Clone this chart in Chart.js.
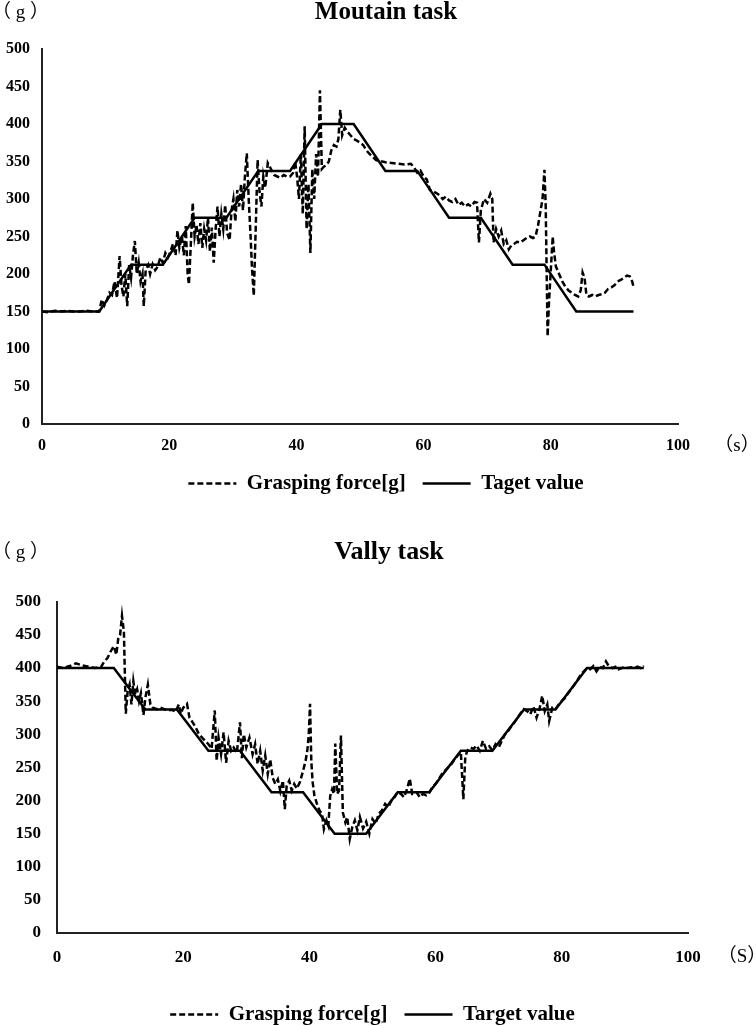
<!DOCTYPE html>
<html>
<head>
<meta charset="utf-8">
<script src="https://cdn.jsdelivr.net/npm/chart.js@4.4.1/dist/chart.umd.min.js"></script>
<style>
  body { margin: 0; width: 756px; height: 1026px; overflow: hidden; background: #fff; position: relative; }
  .box { position: absolute; left: 0; }
  #box1 { top: 0; width: 772px; height: 504px; }
  #box2 { top: 520px; width: 778px; height: 515px; }
</style>
</head>
<body>
<div class="box" id="box1"><canvas id="chart_mountain"></canvas></div>
<div class="box" id="box2"><canvas id="chart_valley"></canvas></div>
<script>
// target value steps (same times for both tasks)
const targetTime = [0, 9, 14, 19, 24, 29, 34, 39, 44, 49, 54, 59, 64, 69, 74, 79, 84, 93];
const mountainTarget = [150, 150, 212.5, 212.5, 275, 275, 337.5, 337.5, 400, 400, 337.5, 337.5, 275, 275, 212.5, 212.5, 150, 150];
const valleyTarget = [400, 400, 337.5, 337.5, 275, 275, 212.5, 212.5, 150, 150, 212.5, 212.5, 275, 275, 337.5, 337.5, 400, 400];

// grasping force, mountain task
const mountainTime = [
  0, 1, 2, 3, 4, 5, 6, 7, 8, 9,
  9.4, 9.8, 10.2, 10.6, 11, 11.4, 11.8, 12.2, 12.5, 12.8,
  13.1, 13.4, 13.7, 14, 14.3, 14.6, 14.9, 15.2, 15.5, 15.8,
  16, 16.3, 16.7, 17, 17.4, 17.8, 18.2, 18.6, 19, 19.4,
  19.8, 20.2, 20.6, 21, 21.3, 21.6, 22, 22.3, 22.6, 22.9,
  23.1, 23.4, 23.7, 24, 24.3, 24.6, 24.9, 25.2, 25.5, 25.8,
  26.1, 26.4, 26.7, 27, 27.3, 27.6, 27.9, 28.2, 28.5, 28.8,
  29.1, 29.5, 29.8, 30.1, 30.4, 30.7, 31, 31.3, 31.6, 31.9,
  32.2, 32.5, 32.8, 33, 33.3, 33.6, 33.9, 34.2, 34.5, 34.8,
  35.1, 35.5, 36, 36.5, 37, 37.5, 38, 38.5, 39, 39.5,
  39.8, 40.1, 40.4, 40.7, 41, 41.3, 41.6, 41.9, 42.2, 42.5,
  42.8, 43.1, 43.4, 43.7, 44, 44.3, 44.7, 45.1, 45.5, 45.9,
  46.3, 46.6, 46.9, 47.2, 47.6, 48, 48.5, 49, 49.5, 50,
  50.5, 51, 51.5, 52, 52.5, 53, 53.5, 54, 55, 56,
  57, 58, 58.5, 59, 59.5, 60, 60.5, 61, 61.5, 62,
  62.5, 63, 63.5, 64, 64.5, 65, 65.5, 66, 66.5, 67,
  67.5, 68, 68.4, 68.7, 69, 69.5, 70, 70.5, 70.8, 71,
  71.4, 71.8, 72.2, 72.6, 73, 73.4, 73.8, 74.2, 74.7, 75.2,
  75.7, 76.2, 76.7, 77.2, 77.6, 78, 78.4, 78.7, 79, 79.2,
  79.5, 79.7, 80, 80.3, 80.5, 80.8, 81.3, 81.8, 82.3, 82.8,
  83.3, 83.8, 84.3, 84.7, 85, 85.3, 85.6, 86, 86.5, 87,
  87.5, 88, 88.5, 89, 89.5, 90, 90.5, 91, 91.5, 92,
  92.4, 92.8, 93
];
const mountainForce = [
  150, 149, 151, 150, 151, 150, 150, 151, 150, 150,
  166, 158, 165, 175, 172, 190, 168, 224, 185, 170,
  200, 157, 212, 195, 225, 244, 200, 215, 190, 200,
  157, 205, 212, 200, 213, 205, 210, 222, 215, 228,
  222, 230, 240, 225, 258, 235, 250, 225, 264, 200,
  186, 240, 295, 250, 265, 240, 268, 235, 260, 245,
  275, 230, 262, 215, 260, 290, 250, 280, 260, 292,
  255, 245, 285, 300, 270, 312, 290, 320, 285, 330,
  361, 300, 250, 210, 171, 260, 352, 310, 290, 330,
  315, 348, 340, 332, 330, 328, 332, 330, 330, 335,
  350, 330, 300, 360, 280, 397, 260, 320, 228, 340,
  300, 360, 330, 445, 340, 343, 345, 350, 365, 372,
  370, 380, 419, 385, 395, 390, 385, 380, 378, 375,
  372, 365, 360, 356, 352, 350, 350, 349, 348, 347,
  346, 347, 342, 335, 338, 330, 326, 312, 310, 308,
  305, 300, 303, 298, 296, 300, 292, 295, 290, 293,
  290, 296, 295, 242, 285, 300, 295, 307, 300, 242,
  260, 250, 258, 240, 245, 233, 238, 240, 243, 242,
  245, 248, 250, 248, 250, 265, 285, 300, 339, 290,
  117, 160, 205, 250, 230, 210, 200, 190, 183, 178,
  175, 172, 170, 178, 202, 195, 172, 170, 172, 170,
  172, 173, 175, 180, 182, 185, 190, 192, 195, 198,
  197, 190, 183
];

// grasping force, valley task
const valleyTime = [
  0, 1, 2, 3, 4, 5, 6, 7, 7.5, 8,
  8.5, 9, 9.4, 9.7, 10, 10.3, 10.6, 10.9, 11.2, 11.5,
  11.8, 12.1, 12.4, 12.7, 13, 13.3, 13.7, 14, 14.4, 14.8,
  15.2, 15.8, 16.4, 17, 17.6, 18.2, 18.8, 19.3, 19.6, 20,
  20.6, 21, 21.5, 22, 22.5, 23, 23.5, 24, 24.5, 25,
  25.3, 25.6, 26, 26.4, 26.8, 27.2, 27.6, 28, 28.5, 29,
  29.3, 29.6, 30, 30.5, 31, 31.4, 31.8, 32.2, 32.6, 33,
  33.4, 33.8, 34.2, 34.6, 35, 35.4, 35.8, 36.1, 36.4, 36.8,
  37.2, 37.6, 38, 38.5, 39, 39.4, 39.7, 39.9, 40.1, 40.3,
  40.5, 40.8, 41.2, 41.6, 42, 42.3, 42.7, 43, 43.3, 43.6,
  43.9, 44.1, 44.4, 44.7, 45, 45.3, 45.7, 46, 46.4, 46.8,
  47.2, 47.6, 48, 48.5, 49, 49.5, 50, 50.5, 51, 51.5,
  52, 52.5, 53, 53.5, 54, 54.5, 55, 55.5, 55.9, 56.3,
  57, 57.5, 58, 58.5, 59, 59.5, 60, 60.5, 61, 61.5,
  62, 62.5, 63, 63.5, 64, 64.4, 64.7, 65, 65.5, 66,
  66.5, 67, 67.5, 68, 68.5, 69, 69.5, 70, 70.5, 71,
  71.5, 72, 72.5, 73, 73.5, 74, 74.5, 75, 75.5, 76,
  76.5, 76.9, 77.3, 77.7, 78, 78.5, 79, 79.5, 80, 80.5,
  81, 81.5, 82, 82.5, 83, 83.5, 84, 84.5, 85, 85.5,
  86, 86.5, 87, 87.5, 88, 88.5, 89, 89.5, 90, 90.5,
  91, 91.5, 92, 92.5, 93
];
const valleyForce = [
  402, 400, 403, 407, 404, 402, 400, 402, 410, 415,
  425, 433, 420, 444, 450, 479, 455, 331, 365, 375,
  345, 380, 360, 368, 350, 362, 329, 355, 375, 345,
  340, 338, 340, 338, 336, 337, 334, 345, 331, 340,
  346, 325, 318, 310, 300, 295, 290, 285, 278, 336,
  260, 295, 270, 303, 257, 290, 275, 280, 272, 318,
  264, 300, 280, 295, 270, 285, 255, 275, 245, 268,
  240, 262, 234, 225, 232, 214, 230, 187, 222, 230,
  215, 225, 218, 228, 245, 260, 278, 300, 346, 260,
  229, 207, 195, 185, 180, 157, 170, 162, 207, 217,
  210, 286, 210, 215, 298, 182, 167, 175, 142, 160,
  170, 155, 175, 158, 168, 150, 172, 165, 180, 185,
  195, 190, 200, 205, 213, 210, 205, 218, 233, 210,
  212, 205, 210, 208, 212, 220, 225, 232, 240, 245,
  250, 255, 262, 268, 273, 202, 265, 275, 280, 278,
  283, 275, 290, 278, 282, 276, 285, 280, 290, 300,
  305, 312, 318, 325, 332, 338, 335, 330, 342, 325,
  340, 358, 335, 345, 320, 340, 338, 345, 350, 355,
  362, 368, 375, 382, 390, 395, 400, 398, 403, 395,
  402, 400, 410, 402, 400, 402, 398, 400, 402, 400,
  401, 400, 402, 400, 403
];

const xTicks = [0, 20, 40, 60, 80, 100];
const yTicks = [0, 50, 100, 150, 200, 250, 300, 350, 400, 450, 500];

const serif = '"Liberation Serif", "Times New Roman", serif';

function toPoints(xs, ys) {
  return xs.map((x, i) => ({ x: x, y: ys[i] }));
}

// "(g)" and "(s)" unit labels
const unitLabels = {
  id: "unitLabels",
  afterDraw(chart, args, opts) {
    const { ctx, chartArea, scales } = chart;
    ctx.save();
    ctx.fillStyle = "#000";
    ctx.font = opts.font;
    ctx.textBaseline = "middle";
    ctx.textAlign = "left";
    ctx.fillText(opts.yText, opts.yX, opts.yY);
    ctx.textAlign = "center";
    ctx.fillText(opts.xText, chartArea.right + opts.xOffset, scales.x.top + opts.xDy);
    ctx.restore();
  },
};

function makeChart(id, cfg) {
  return new Chart(document.getElementById(id), {
    type: "line",
    data: {
      datasets: [
        {
          label: "Grasping force[g]",
          data: toPoints(cfg.forceTime, cfg.force),
          borderColor: "#000",
          backgroundColor: "#000",
          borderWidth: 2.5,
          borderDash: [6, 3],
          pointRadius: 0,
          tension: 0,
        },
        {
          label: cfg.targetLabel,
          data: toPoints(targetTime, cfg.target),
          borderColor: "#000",
          backgroundColor: "#000",
          borderWidth: 2.5,
          pointRadius: 0,
          tension: 0,
        },
      ],
    },
    options: {
      responsive: true,
      maintainAspectRatio: false,
      animation: false,
      layout: { padding: 0 },
      scales: {
        x: {
          type: "linear",
          min: 0,
          max: 100,
          afterBuildTicks: (s) => { s.ticks = xTicks.map((v) => ({ value: v })); },
          afterFit: (s) => { s.height = cfg.xHeight; },
          grid: { display: false, drawTicks: false },
          border: { display: true, color: "#222", width: 2 },
          ticks: {
            color: "#000",
            padding: cfg.xPad,
            maxRotation: 0,
            font: { family: serif, size: cfg.tickSize, weight: "bold" },
          },
        },
        y: {
          min: 0,
          max: 500,
          afterBuildTicks: (s) => { s.ticks = yTicks.map((v) => ({ value: v })); },
          afterFit: (s) => { s.width = cfg.yWidth; },
          grid: { display: false, drawTicks: false },
          border: { display: true, color: "#222", width: 2 },
          ticks: {
            color: "#000",
            padding: cfg.yPad,
            font: { family: serif, size: cfg.tickSize, weight: "bold" },
          },
        },
        spare: {
          type: "linear",
          position: "right",
          afterFit: (s) => { s.width = cfg.rightWidth; },
          grid: { display: false, drawTicks: false },
          border: { display: false },
          ticks: { display: false },
        },
      },
      plugins: {
        title: {
          display: true,
          text: cfg.title,
          color: "#000",
          font: { family: serif, size: cfg.titleSize, weight: "bold", lineHeight: 0.8 },
          padding: cfg.titlePad,
        },
        legend: {
          position: "bottom",
          fullSize: cfg.legendFull,
          labels: {
            // zero-height box => a short line; width 48 keeps the dashes lined up
            boxWidth: 48,
            boxHeight: 0,
            padding: 17,
            color: "#000",
            font: { family: serif, size: 21, weight: "bold" },
          },
        },
        tooltip: { enabled: false },
        unitLabels: {
          font: "19px " + serif + ', "Noto Sans CJK JP"',
          yText: "（ g ）",
          yX: -8,
          yY: cfg.gY,
          xText: cfg.sText,
          xOffset: cfg.sOffset,
          xDy: cfg.sDy,
        },
      },
    },
    plugins: [unitLabels],
  });
}

makeChart("chart_mountain", {
  title: "Moutain task",
  targetLabel: "Taget value",
  forceTime: mountainTime,
  force: mountainForce,
  target: mountainTarget,
  yWidth: 42,
  rightWidth: 94,
  xHeight: 32,
  xPad: 12,
  yPad: 12,
  tickSize: 16,
  titleSize: 25,
  titlePad: { top: 3, bottom: 26 },
  legendFull: true,
  gY: 13,
  sText: "（s）",
  sOffset: 59,
  sDy: 22,
});

makeChart("chart_valley", {
  title: "Vally task",
  targetLabel: "Target value",
  forceTime: valleyTime,
  force: valleyForce,
  target: valleyTarget,
  yWidth: 57,
  rightWidth: 90,
  xHeight: 54,
  xPad: 14,
  yPad: 16,
  tickSize: 17,
  titleSize: 26,
  titlePad: { top: 22, bottom: 39 },
  legendFull: false,
  gY: 33,
  sText: "（S）",
  sOffset: 54,
  sDy: 24,
});
</script>
</body>
</html>
